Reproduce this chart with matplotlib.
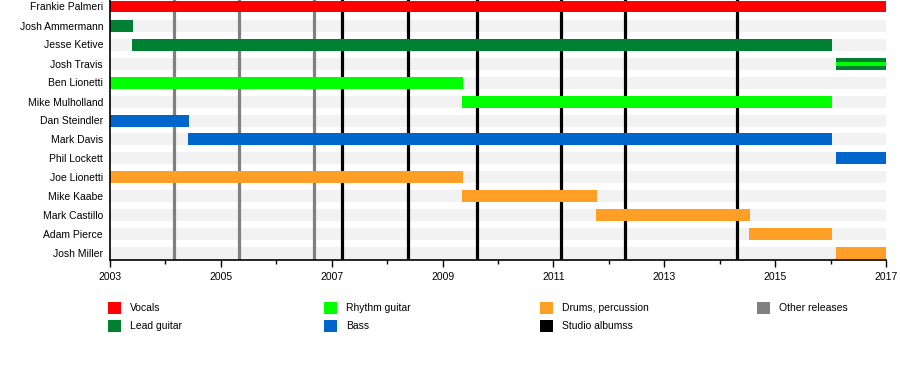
import matplotlib
matplotlib.use("Agg")
import matplotlib.pyplot as plt
from matplotlib.patches import Rectangle

plt.rcParams['font.family'] = ['Liberation Sans', 'DejaVu Sans']

# ---- data ----
members = ["Frankie Palmeri", "Josh Ammermann", "Jesse Ketive", "Josh Travis",
           "Ben Lionetti", "Mike Mulholland", "Dan Steindler", "Mark Davis",
           "Phil Lockett", "Joe Lionetti", "Mike Kaabe", "Mark Castillo",
           "Adam Pierce", "Josh Miller"]
roles = ["Vocals", "Lead guitar", "Lead guitar", "Lead guitar",
         "Rhythm guitar", "Rhythm guitar", "Bass", "Bass",
         "Bass", "Drums, percussion", "Drums, percussion", "Drums, percussion",
         "Drums, percussion", "Drums, percussion"]
starts = [2003.0, 2003.0, 2003.40, 2016.10,
          2003.0, 2009.35, 2003.0, 2004.41,
          2016.10, 2003.0, 2009.35, 2011.77,
          2014.53, 2016.10]
ends = [2017.0, 2003.41, 2016.03, 2017.0,
        2009.37, 2016.03, 2004.43, 2016.03,
        2017.0, 2009.37, 2011.79, 2014.55,
        2016.03, 2017.0]
# secondary role (thin inner stripe)
secondary = {"Josh Travis": "Rhythm guitar"}

other_releases = [2004.15, 2005.33, 2006.68]
studio_albums = [2007.19, 2008.38, 2009.62, 2011.14, 2012.30, 2014.31]

year_start, year_end = 2003, 2017
major_ticks = list(range(2003, 2018, 2))
minor_ticks = list(range(2003, 2018, 1))

role_colors = {
    "Vocals": "#ff0000",
    "Lead guitar": "#008033",
    "Rhythm guitar": "#00ff00",
    "Bass": "#0066cc",
    "Drums, percussion": "#ff9f26",
}
legend_items = ["Vocals", "Lead guitar", "Rhythm guitar", "Bass",
                "Drums, percussion", "Studio albumss", "Other releases"]
legend_colors = ["#ff0000", "#008033", "#00ff00", "#0066cc",
                 "#ff9f26", "#000000", "#808080"]

# ---- figure ----
W, H = 900, 380
fig = plt.figure(figsize=(W / 100, H / 100), dpi=100)
ax = fig.add_axes([110 / W, 120 / H, 776 / W, 260 / H])

n = len(members)
bar_h = 12 / 19
pad = 6.5 / 19
fs = 7.5

# background rows
for i in range(n):
    ax.barh(i, year_end - year_start, left=year_start, height=bar_h,
            color="#f2f2f2", zorder=1)

# release lines
for x in other_releases:
    ax.axvline(x, color="#808080", lw=2.3, zorder=2)
for x in studio_albums:
    ax.axvline(x, color="#000000", lw=2.3, zorder=2)

# member bars
for i, (m, r, s, e) in enumerate(zip(members, roles, starts, ends)):
    ax.barh(i, e - s, left=s, height=bar_h, color=role_colors[r], zorder=3)
    if m in secondary:
        ax.barh(i, e - s, left=s, height=bar_h / 3,
                color=role_colors[secondary[m]], zorder=4)

ax.set_xlim(year_start, year_end)
ax.set_ylim(n - 1 + pad, -pad)
ax.set_yticks(range(n))
ax.set_yticklabels(members, fontsize=fs)
ax.tick_params(axis="y", length=0, pad=5)
ax.set_xticks(major_ticks)
ax.set_xticklabels([str(t) for t in major_ticks], fontsize=fs)
ax.set_xticks(minor_ticks, minor=True)
ax.tick_params(axis="x", which="major", length=5, width=1, direction="out", pad=4)
ax.tick_params(axis="x", which="minor", length=3, width=1, direction="out")
for side in ["top", "right"]:
    ax.spines[side].set_visible(False)
for side in ["left", "bottom"]:
    ax.spines[side].set_linewidth(1.2)
    ax.spines[side].set_zorder(5)

# legend (column-major, 2 rows)
col_x = [108, 324, 540, 757]
row_y = [302, 320]
for k, (lab, col) in enumerate(zip(legend_items, legend_colors)):
    c, r = divmod(k, 2)
    x0, y0 = col_x[c], row_y[r]
    fig.add_artist(Rectangle((x0 / W, 1 - (y0 + 12) / H), 12.5 / W, 12 / H,
                             transform=fig.transFigure, color=col, lw=0))
    fig.text((x0 + 22) / W, 1 - (y0 + 6) / H, lab, fontsize=fs,
             va="center", ha="left")

fig.savefig("out.png", dpi=100)
